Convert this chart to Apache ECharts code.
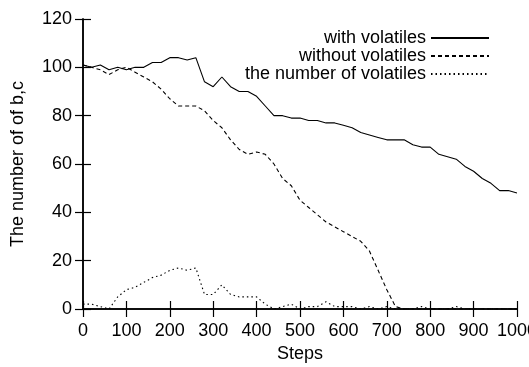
<!DOCTYPE html>
<html>
<head>
<meta charset="utf-8">
<script src="https://cdn.jsdelivr.net/npm/echarts@6/dist/echarts.min.js"></script>
<style>
  html, body { margin: 0; padding: 0; background: #fff; }
  #chart { width: 529px; height: 367px; }
</style>
</head>
<body>
<div id="chart"></div>
<script>
// steps sampled every 20
const steps = [];
for (let s = 0; s <= 1000; s += 20) steps.push(s);

const withVolatiles = [
  101, 100, 101, 99, 100, 99, 100, 100, 102, 102,
  104, 104, 103, 104, 94, 92, 96, 92, 90, 90,
  88, 84, 80, 80, 79, 79, 78, 78, 77, 77,
  76, 75, 73, 72, 71, 70, 70, 70, 68, 67,
  67, 64, 63, 62, 59, 57, 54, 52, 49, 49,
  48
];

const withoutVolatiles = [
  101, 100, 99, 97, 99, 100, 98, 96, 94, 91,
  87, 84, 84, 84, 82, 78, 75, 70, 66, 64,
  65, 64, 60, 54, 51, 45, 42, 39, 36, 34,
  32, 30, 28, 24, 16, 8, 1, 0, 0, 0,
  0, 0, 0, 0, 0, 0, 0, 0, 0, 0,
  0
];

const numVolatiles = [
  2, 2, 1, 0, 5, 8, 9, 11, 13, 14,
  16, 17, 16, 17, 6, 6, 10, 6, 5, 5,
  5, 2, 0, 1, 2, 0, 1, 1, 3, 1,
  1, 1, 0, 1, 0, 1, 0, 0, 0, 1,
  0, 0, 0, 1, 0, 0, 0, 0, 0, 0,
  0
];

const xTicks = [0, 100, 200, 300, 400, 500, 600, 700, 800, 900, 1000];
const yTicks = [0, 20, 40, 60, 80, 100, 120];

const pairs = (vals) => steps.map((s, i) => [s, vals[i]]);

const font = "Liberation Sans";
const chart = echarts.init(document.getElementById("chart"));

const axisCommon = {
  axisLine: { show: true, lineStyle: { color: "#000", width: 1.5 } },
  axisTick: { show: true, inside: true, length: 8, lineStyle: { color: "#000", width: 1.2 } },
  splitLine: { show: false },
};

const lineSeries = (name, vals, type) => ({
  name: name,
  type: "line",
  data: pairs(vals),
  symbol: "none",
  lineStyle: { color: "#000", width: 1.1, type: type },
  itemStyle: { color: "#000" },
  animation: false,
});

chart.setOption({
  animation: false,
  backgroundColor: "#fff",
  grid: { left: 83, right: 12, top: 19, bottom: 58, outerBoundsMode: "none" },
  legend: {
    right: 34,
    top: 24,
    orient: "vertical",
    align: "right",
    itemWidth: 58,
    itemHeight: 14,
    itemGap: 0,
    itemStyle: { opacity: 0 },
    textStyle: { fontFamily: font, fontSize: 18, lineHeight: 17.5, color: "#000" },
    data: ["with volatiles", "without volatiles", "the number of volatiles"],
  },
  xAxis: [
    {
      ...axisCommon,
      type: "value",
      min: 0,
      max: 1000,
      interval: 100,
      name: "Steps",
      nameLocation: "middle",
      nameGap: 36,
      nameTextStyle: { fontFamily: font, fontSize: 18, color: "#000" },
      axisLabel: {
        color: "#000",
        fontFamily: font,
        fontSize: 18,
        margin: 13,
        formatter: (v) => (xTicks.includes(v) ? String(v) : ""),
      },
    },
    {
      ...axisCommon,
      type: "value",
      position: "top",
      min: 0,
      max: 1000,
      interval: 100,
      axisLabel: { show: false },
    },
  ],
  yAxis: [
    {
      ...axisCommon,
      type: "value",
      min: 0,
      max: 120,
      interval: 20,
      name: "The number of of b,c",
      nameLocation: "middle",
      nameGap: 56,
      nameTextStyle: { fontFamily: font, fontSize: 18, color: "#000" },
      axisLabel: {
        color: "#000",
        fontFamily: font,
        fontSize: 18,
        margin: 11,
        formatter: (v) => (yTicks.includes(v) ? String(v) : ""),
      },
    },
    {
      ...axisCommon,
      type: "value",
      position: "right",
      min: 0,
      max: 120,
      interval: 20,
      axisLabel: { show: false },
    },
  ],
  series: [
    lineSeries("with volatiles", withVolatiles, "solid"),
    lineSeries("without volatiles", withoutVolatiles, [4, 3]),
    lineSeries("the number of volatiles", numVolatiles, [1.5, 3]),
  ],
});
</script>
</body>
</html>
